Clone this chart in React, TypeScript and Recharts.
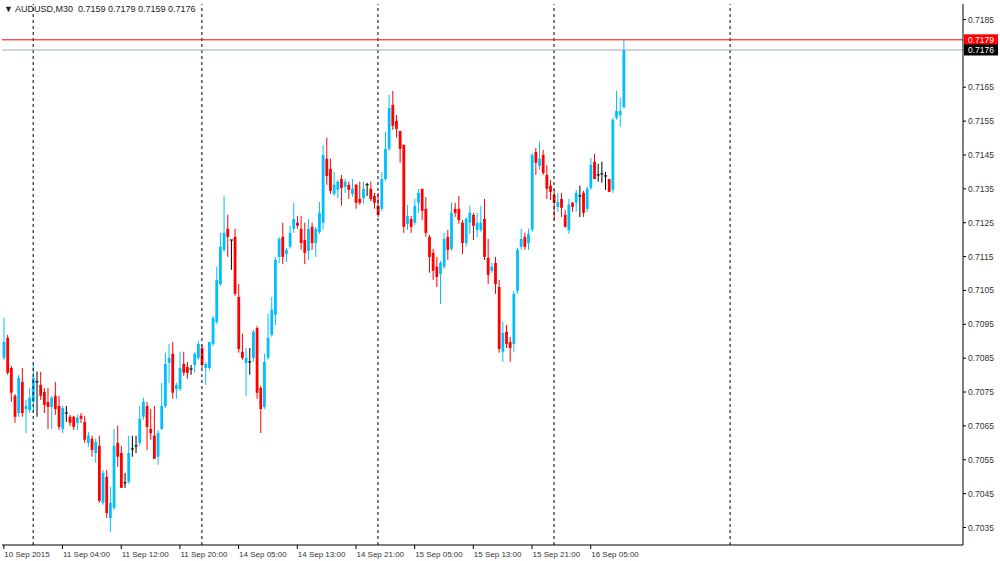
import React from "react";
import { ComposedChart, Bar, XAxis, YAxis, ReferenceLine, ReferenceArea } from "recharts";

// AUDUSD M30 candles, 10 Sep 2015 20:00 .. 16 Sep 2015 09:30 (170 bars)
const OPEN = [
  0.70851, 0.7091, 0.70821, 0.70739, 0.70688, 0.7078, 0.707, 0.70697, 0.70721, 0.7078,
  0.70771, 0.7075, 0.70721, 0.70706, 0.70739, 0.70709, 0.70641, 0.70688, 0.70677, 0.70677,
  0.70659, 0.7068, 0.70662, 0.706, 0.70612, 0.7057, 0.70591, 0.70423, 0.70499, 0.70378,
  0.70408, 0.706, 0.7057, 0.70482, 0.70485, 0.70582, 0.70591, 0.706, 0.70677, 0.70709,
  0.70641, 0.70621, 0.70559, 0.70641, 0.70709, 0.70836, 0.70863, 0.70759, 0.70759, 0.70833,
  0.70824, 0.70818, 0.7083, 0.70851, 0.7088, 0.70821, 0.70821, 0.70892, 0.70957, 0.71069,
  0.7117, 0.71232, 0.71199, 0.71208, 0.71031, 0.70869, 0.70836, 0.70839, 0.70851, 0.70939,
  0.70762, 0.70706, 0.70851, 0.70919, 0.70978, 0.71149, 0.71208, 0.71158, 0.71179, 0.71232,
  0.7125, 0.71232, 0.71199, 0.71167, 0.71238, 0.7119, 0.71223, 0.7125, 0.71439, 0.71409,
  0.71335, 0.71347, 0.71379, 0.71356, 0.71362, 0.71335, 0.71362, 0.7132, 0.71323, 0.71362,
  0.7135, 0.71329, 0.713, 0.71291, 0.71379, 0.71468, 0.71598, 0.71551, 0.71521, 0.7148,
  0.71247, 0.71261, 0.7125, 0.71309, 0.7135, 0.71291, 0.71208, 0.71161, 0.7112, 0.71099,
  0.7112, 0.71208, 0.71173, 0.71291, 0.71291, 0.7125, 0.7119, 0.7125, 0.71273, 0.71229,
  0.71229, 0.71261, 0.71146, 0.71108, 0.71131, 0.7106, 0.70869, 0.70928, 0.70898, 0.70892,
  0.71049, 0.71179, 0.71208, 0.7119, 0.71229, 0.71459, 0.71418, 0.7145, 0.71391, 0.71359,
  0.71332, 0.71297, 0.7132, 0.71273, 0.71229, 0.71309, 0.71309, 0.71329, 0.71338, 0.71291,
  0.71353, 0.7143, 0.71391, 0.71394, 0.71388, 0.71379, 0.71347, 0.7156, 0.71568, 0.7159,
];
const HIGH = [
  0.70969, 0.70919, 0.70827, 0.70744, 0.70801, 0.70821, 0.70727, 0.70762, 0.70833, 0.7081,
  0.7081, 0.70762, 0.70762, 0.70739, 0.7078, 0.70739, 0.70709, 0.70709, 0.70683, 0.7068,
  0.70683, 0.70688, 0.7068, 0.70632, 0.70621, 0.70612, 0.70621, 0.7052, 0.7052, 0.7047,
  0.70641, 0.7065, 0.70591, 0.70511, 0.70621, 0.70621, 0.70621, 0.70709, 0.70733, 0.70721,
  0.707, 0.70709, 0.70638, 0.70777, 0.70866, 0.70892, 0.70898, 0.70777, 0.70869, 0.70869,
  0.70839, 0.7083, 0.70869, 0.70901, 0.70889, 0.70839, 0.70898, 0.70975, 0.7112, 0.7122,
  0.71329, 0.71273, 0.71199, 0.71232, 0.71069, 0.70922, 0.7088, 0.7088, 0.70934, 0.70945,
  0.70768, 0.70863, 0.70981, 0.71031, 0.71149, 0.71208, 0.7125, 0.71176, 0.71241, 0.71309,
  0.7127, 0.7127, 0.7125, 0.71261, 0.7125, 0.71238, 0.71311, 0.7148, 0.71501, 0.71439,
  0.714, 0.71376, 0.71391, 0.71379, 0.71371, 0.71379, 0.71365, 0.71371, 0.71371, 0.71368,
  0.71371, 0.71338, 0.71338, 0.714, 0.71518, 0.71627, 0.71639, 0.71568, 0.71521, 0.7148,
  0.71303, 0.7127, 0.7132, 0.7135, 0.7135, 0.71326, 0.71214, 0.71173, 0.71149, 0.71137,
  0.7122, 0.71229, 0.71309, 0.71309, 0.71329, 0.71258, 0.71267, 0.713, 0.71279, 0.71279,
  0.713, 0.7132, 0.71202, 0.71131, 0.71149, 0.71081, 0.70957, 0.70948, 0.70913, 0.71049,
  0.71176, 0.71232, 0.7122, 0.71232, 0.71456, 0.71471, 0.71489, 0.71465, 0.71421, 0.71376,
  0.71347, 0.71338, 0.71338, 0.71288, 0.7132, 0.71311, 0.71347, 0.71359, 0.71344, 0.71356,
  0.71441, 0.71453, 0.71424, 0.7143, 0.714, 0.71379, 0.7156, 0.71639, 0.71619, 0.7179,
];
const LOW = [
  0.70845, 0.70801, 0.70721, 0.70659, 0.70677, 0.70677, 0.70629, 0.70688, 0.70691, 0.70677,
  0.70727, 0.70688, 0.70641, 0.70641, 0.70683, 0.70638, 0.70629, 0.70662, 0.7065, 0.70638,
  0.70638, 0.70659, 0.706, 0.70588, 0.70559, 0.70541, 0.70423, 0.70417, 0.70378, 0.70337,
  0.70402, 0.70529, 0.70467, 0.70467, 0.70479, 0.70559, 0.7057, 0.70591, 0.70668, 0.70579,
  0.70609, 0.70553, 0.70535, 0.70638, 0.70703, 0.70777, 0.7073, 0.7073, 0.70753, 0.70798,
  0.70789, 0.70801, 0.70807, 0.70845, 0.70821, 0.70771, 0.70815, 0.70886, 0.70951, 0.71063,
  0.71164, 0.71149, 0.71111, 0.71034, 0.70866, 0.70845, 0.70739, 0.70801, 0.70839, 0.7073,
  0.70629, 0.707, 0.70845, 0.70913, 0.70948, 0.71131, 0.71128, 0.71134, 0.71173, 0.7122,
  0.71232, 0.7117, 0.71128, 0.7114, 0.7117, 0.71149, 0.71217, 0.71229, 0.71362, 0.71335,
  0.71329, 0.71323, 0.713, 0.71338, 0.7132, 0.71326, 0.71291, 0.71303, 0.71306, 0.71329,
  0.71314, 0.71291, 0.71267, 0.71285, 0.71374, 0.71462, 0.71524, 0.71501, 0.71427, 0.7122,
  0.71229, 0.7122, 0.71244, 0.71279, 0.71258, 0.71208, 0.71102, 0.71081, 0.7106, 0.7101,
  0.71114, 0.7114, 0.71167, 0.71267, 0.71247, 0.71158, 0.71179, 0.71217, 0.71199, 0.71208,
  0.71223, 0.7114, 0.71069, 0.71102, 0.7104, 0.70866, 0.70839, 0.7088, 0.70839, 0.70869,
  0.7104, 0.7117, 0.7117, 0.7117, 0.71223, 0.71391, 0.71406, 0.71391, 0.7132, 0.71317,
  0.71258, 0.71282, 0.71267, 0.71235, 0.71217, 0.71282, 0.71282, 0.71267, 0.71267, 0.71282,
  0.71347, 0.71379, 0.71371, 0.71368, 0.71347, 0.71341, 0.71338, 0.71554, 0.71533, 0.7159,
];
const CLOSE = [
  0.70898, 0.70807, 0.70748, 0.70677, 0.70792, 0.70688, 0.70709, 0.70733, 0.70792, 0.7078,
  0.70739, 0.70712, 0.70706, 0.70733, 0.707, 0.70647, 0.70703, 0.70688, 0.70659, 0.70647,
  0.70674, 0.70671, 0.70609, 0.70621, 0.70579, 0.70603, 0.70429, 0.70511, 0.70393, 0.70423,
  0.70591, 0.70559, 0.70467, 0.70482, 0.7057, 0.70582, 0.70591, 0.70671, 0.70721, 0.70647,
  0.70629, 0.70553, 0.70629, 0.70709, 0.70833, 0.70851, 0.70748, 0.70771, 0.70821, 0.70807,
  0.70807, 0.70818, 0.70863, 0.70892, 0.7083, 0.70833, 0.70898, 0.70969, 0.71081, 0.71179,
  0.7122, 0.71208, 0.71199, 0.7104, 0.70877, 0.70851, 0.70851, 0.70839, 0.70928, 0.70748,
  0.707, 0.70839, 0.7091, 0.70993, 0.7114, 0.71202, 0.71149, 0.7117, 0.7122, 0.71261,
  0.71241, 0.7119, 0.71161, 0.71232, 0.7119, 0.71232, 0.71279, 0.7145, 0.71388, 0.71344,
  0.71362, 0.71371, 0.71353, 0.71371, 0.71347, 0.7135, 0.71309, 0.71309, 0.7135, 0.71362,
  0.7132, 0.71309, 0.71273, 0.71379, 0.71468, 0.71589, 0.71536, 0.71527, 0.71468, 0.71238,
  0.7127, 0.71238, 0.713, 0.71338, 0.71285, 0.7122, 0.71149, 0.71108, 0.7109, 0.71131,
  0.71202, 0.7117, 0.71279, 0.71279, 0.71258, 0.7119, 0.71261, 0.71279, 0.71241, 0.7125,
  0.7125, 0.71149, 0.71096, 0.7112, 0.71069, 0.70877, 0.70925, 0.70892, 0.7088, 0.7104,
  0.7117, 0.71202, 0.71179, 0.71217, 0.7145, 0.71427, 0.71439, 0.71397, 0.7135, 0.71341,
  0.71309, 0.71311, 0.71294, 0.71238, 0.71303, 0.71297, 0.71338, 0.71329, 0.71279, 0.7135,
  0.71421, 0.71379, 0.71391, 0.71394, 0.71388, 0.71341, 0.71554, 0.7158, 0.7158, 0.7176,
];

const SLOT_COUNT = 262; // bars + empty chart shift area
const TICK_IDX = [0, 16, 32, 48, 64, 80, 96, 112, 128, 144, 160];
const TICK_LABELS = [
  "10 Sep 2015", "11 Sep 04:00", "11 Sep 12:00", "11 Sep 20:00", "14 Sep 05:00", "14 Sep 13:00",
  "14 Sep 21:00", "15 Sep 05:00", "15 Sep 13:00", "15 Sep 21:00", "16 Sep 05:00",
];
const SEPARATOR_IDX = [8, 54, 102, 150, 198];
const PRICE_TICKS = [
  0.7035, 0.7045, 0.7055, 0.7065, 0.7075, 0.7085, 0.7095, 0.7105, 0.7115, 0.7125,
  0.7135, 0.7145, 0.7155, 0.7165, 0.7185,
];
const ASK = 0.7179;
const BID = 0.7176;
const Y_MIN = 0.7029833;
const Y_MAX = 0.7189576;

const BULL = "#00BFFF";
const BEAR = "#FF0000";
const DOJI = "#000000";
const FONT = "'Liberation Sans', Arial, sans-serif";

const rows = Array.from({ length: SLOT_COUNT }, (_, i) =>
  i < OPEN.length
    ? { i, o: OPEN[i], h: HIGH[i], l: LOW[i], c: CLOSE[i], range: [LOW[i], HIGH[i]] }
    : { i }
);

const Candle = (props: any) => {
  const { x, y, width, height, payload } = props;
  if (!payload || payload.o == null) return null;
  const { o, h, l, c } = payload;
  const top = Math.min(y, y + height);
  const hh = Math.abs(height);
  const cx = x + width / 2;
  const span = h - l;
  const py = (p: number) => (span === 0 ? top : top + ((h - p) / span) * hh);
  const color = c > o ? BULL : c < o ? BEAR : DOJI;
  const bTop = py(Math.max(o, c));
  const bBot = py(Math.min(o, c));
  return (
    <g>
      <line x1={cx} x2={cx} y1={top} y2={top + hh} stroke={color} strokeWidth={1} />
      {o === c ? (
        <line x1={cx - 1.6} x2={cx + 1.6} y1={bTop} y2={bTop} stroke={color} strokeWidth={1} />
      ) : (
        <rect x={cx - 1.4} y={bTop} width={2.8} height={Math.max(bBot - bTop, 1)} fill={color} />
      )}
    </g>
  );
};

const BottomTick = (props: any) => {
  const { x, y, payload } = props;
  const k = TICK_IDX.indexOf(payload.value);
  if (k < 0) return null;
  return (
    <text x={x + 0.5} y={y} dy="0.71em" textAnchor="start" fontSize={8} fontFamily={FONT} fill="#333">
      {TICK_LABELS[k]}
    </text>
  );
};

const PriceTag = (props: any) => {
  const { viewBox, bg, txt } = props;
  if (!viewBox) return null;
  const x = viewBox.x + viewBox.width + 1;
  const y = viewBox.y;
  return (
    <g>
      <rect x={x} y={y - 5.5} width={34} height={11} fill={bg} />
      <text x={x + 4} y={y} dy="0.35em" fontSize={8.5} fontFamily={FONT} fill="#fff">
        {txt}
      </text>
    </g>
  );
};

export default function App() {
  return (
    <div style={{ position: "absolute", left: 0, top: 0, width: 1000, height: 561, background: "#fff" }}>
      <ComposedChart
        width={1000}
        height={561}
        data={rows}
        margin={{ top: 4, right: 0, bottom: 0, left: 2 }}
        barCategoryGap={0}
      >
        <XAxis
          dataKey="i"
          type="category"
          ticks={TICK_IDX}
          interval={0}
          height={16}
          tickSize={4}
          tickMargin={2}
          tick={<BottomTick />}
          axisLine={{ stroke: "#000" }}
          tickLine={{ stroke: "#000" }}
        />
        <YAxis
          orientation="right"
          type="number"
          domain={[Y_MIN, Y_MAX]}
          allowDataOverflow
          ticks={PRICE_TICKS}
          interval={0}
          width={37}
          tickSize={3}
          tickMargin={2}
          tickFormatter={(v: number) => v.toFixed(4)}
          tick={{ fontSize: 8.5, fontFamily: FONT, fill: "#333", textAnchor: "start" }}
          axisLine={{ stroke: "#000" }}
          tickLine={{ stroke: "#000" }}
        />
        <ReferenceArea fill="none" stroke="#000" strokeWidth={1} ifOverflow="visible" />
        {SEPARATOR_IDX.map((s) => (
          <ReferenceLine key={s} x={s} stroke="#000" strokeDasharray="3 3" strokeWidth={1} ifOverflow="visible" />
        ))}
        <ReferenceLine y={ASK} stroke="#FF0000" strokeWidth={1} label={<PriceTag bg="#FF0000" txt="0.7179" />} />
        <ReferenceLine y={BID} stroke="#9FAAB8" strokeWidth={1} label={<PriceTag bg="#000000" txt="0.7176" />} />
        <Bar dataKey="range" shape={<Candle />} isAnimationActive={false} />
      </ComposedChart>
      <div
        style={{
          position: "absolute",
          left: 4,
          top: 4,
          fontSize: 9,
          fontFamily: FONT,
          color: "#222",
          whiteSpace: "pre",
          lineHeight: "10px",
        }}
      >
        {"\u25BC AUDUSD,M30  0.7159 0.7179 0.7159 0.7176"}
      </div>
    </div>
  );
}
